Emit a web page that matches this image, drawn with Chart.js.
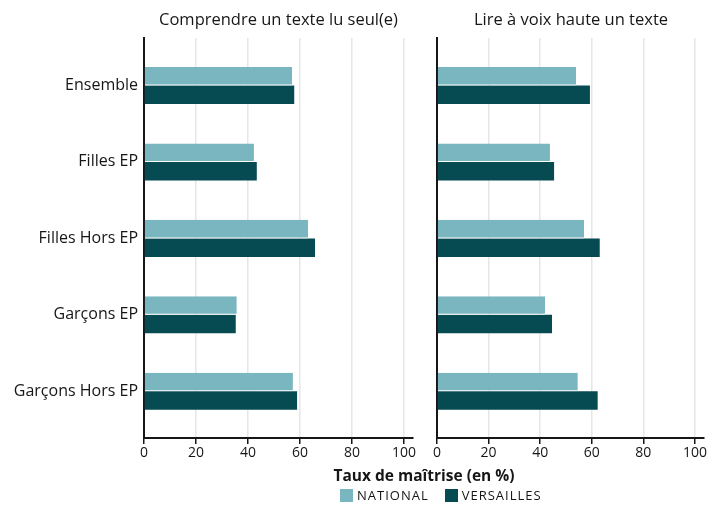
<!DOCTYPE html>
<html>
<head>
<meta charset="utf-8">
<script src="https://cdn.jsdelivr.net/npm/chart.js"></script>
<style>
  body { margin: 0; background: #fff; font-family: "Open Sans", sans-serif; color: #161616; }
  #wrap { position: relative; width: 708px; height: 505px; }
  canvas { position: absolute; top: 0; }
  #left { left: 0; }
  #right { left: 420px; }
  .panelTitle { position: absolute; top: 7px; font-size: 16.5px; text-align: center; white-space: nowrap; }
  .axisTitle { position: absolute; left: 0; width: 848px; top: 464px; text-align: center; font-weight: bold; font-size: 15.5px; }
  .legend { position: absolute; top: 486px; left: 340px; font-size: 13px; letter-spacing: 1px; display: flex; align-items: center; }
  .legend span.box { display: inline-block; width: 13px; height: 13px; margin-right: 4px; }
  .legend span.lab { margin-right: 16px; }
</style>
</head>
<body>
<div id="wrap">
  <canvas id="left" width="420" height="505"></canvas>
  <canvas id="right" width="288" height="505"></canvas>
  <div class="panelTitle" id="t0" style="left:144px;width:269px"></div>
  <div class="panelTitle" id="t1" style="left:437px;width:268px"></div>
  <div class="axisTitle">Taux de maîtrise (en %)</div>
  <div class="legend" id="legend"></div>
</div>
<script>
const categories = ["Ensemble", "Filles EP", "Filles Hors EP", "Garçons EP", "Garçons Hors EP"];
const panelTitles = ["Comprendre un texte lu seul(e)", "Lire à voix haute un texte"];
const seriesNames = ["NATIONAL", "VERSAILLES"];
const colors = ["#7ab6c0", "#074b52"];

// Comprendre un texte lu seul(e)
const nationalLecture = [57.0, 42.3, 63.1, 35.7, 57.3];
const versaillesLecture = [57.8, 43.4, 65.8, 35.3, 58.9];
// Lire à voix haute un texte
const nationalVoix = [53.9, 43.8, 57.0, 41.9, 54.6];
const versaillesVoix = [59.3, 45.4, 63.1, 44.6, 62.3];

const xTicks = [0, 10, 20, 30, 40, 50, 60, 70, 80, 90, 100];

document.getElementById("t0").textContent = panelTitles[0];
document.getElementById("t1").textContent = panelTitles[1];
document.getElementById("legend").innerHTML = seriesNames
  .map((n, i) => `<span class="box" style="background:${colors[i]}"></span><span class="lab">${n}</span>`)
  .join("");

function toPoints(values) {
  return values.map((v, i) => ({ x: v, y: i }));
}

function makePanel(canvasId, national, versailles, showLabels, yWidth, padRight) {
  return new Chart(document.getElementById(canvasId), {
    type: "bar",
    data: {
      datasets: [
        {
          label: seriesNames[0],
          data: toPoints(national),
          backgroundColor: colors[0],
          borderColor: "#ffffff",
          borderWidth: { top: 0, right: 0, bottom: 1, left: 0 },
          borderSkipped: false,
          categoryPercentage: 0.484,
          barPercentage: 1,
        },
        {
          label: seriesNames[1],
          data: toPoints(versailles),
          backgroundColor: colors[1],
          borderWidth: 0,
          categoryPercentage: 0.484,
          barPercentage: 1,
        },
      ],
    },
    options: {
      indexAxis: "y",
      responsive: false,
      animation: false,
      layout: { padding: { left: 0, right: padRight, top: 38, bottom: 0 } },
      plugins: {
        legend: { display: false },
        tooltip: { enabled: false },
      },
      scales: {
        x: {
          type: "linear",
          min: 0,
          max: 103.5,
          afterBuildTicks: (s) => {
            s.ticks = xTicks.map((v) => ({ value: v }));
          },
          afterFit: (s) => {
            s.height = 67;
          },
          ticks: {
            color: "#161616",
            font: { family: "Open Sans", size: 14 },
            padding: 1,
            maxRotation: 0,
            callback: (v) => (v % 20 === 0 ? v : ""),
          },
          grid: {
            color: "#e6e6e6",
            lineWidth: 1.5,
            tickLength: 6,
            tickColor: (ctx) => (ctx.tick && ctx.tick.value % 20 === 0 ? "#161616" : "rgba(0,0,0,0)"),
            tickWidth: 1.5,
          },
          border: { color: "#161616", width: 2 },
        },
        y: {
          type: "linear",
          reverse: true,
          offset: false,
          min: -0.62,
          max: 4.61,
          afterBuildTicks: (s) => {
            s.ticks = categories.map((c, i) => ({ value: i }));
          },
          afterFit: (s) => {
            s.width = yWidth;
          },
          ticks: {
            display: showLabels,
            color: "#161616",
            font: { family: "Open Sans", size: 16 },
            padding: 6,
            callback: (v) => categories[v],
          },
          grid: { display: false, drawTicks: false, offset: false },
          border: { color: "#161616", width: 2 },
        },
      },
    },
  });
}

makePanel("left", nationalLecture, versaillesLecture, true, 144, 7);
makePanel("right", nationalVoix, versaillesVoix, false, 17, 3);
</script>
</body>
</html>
